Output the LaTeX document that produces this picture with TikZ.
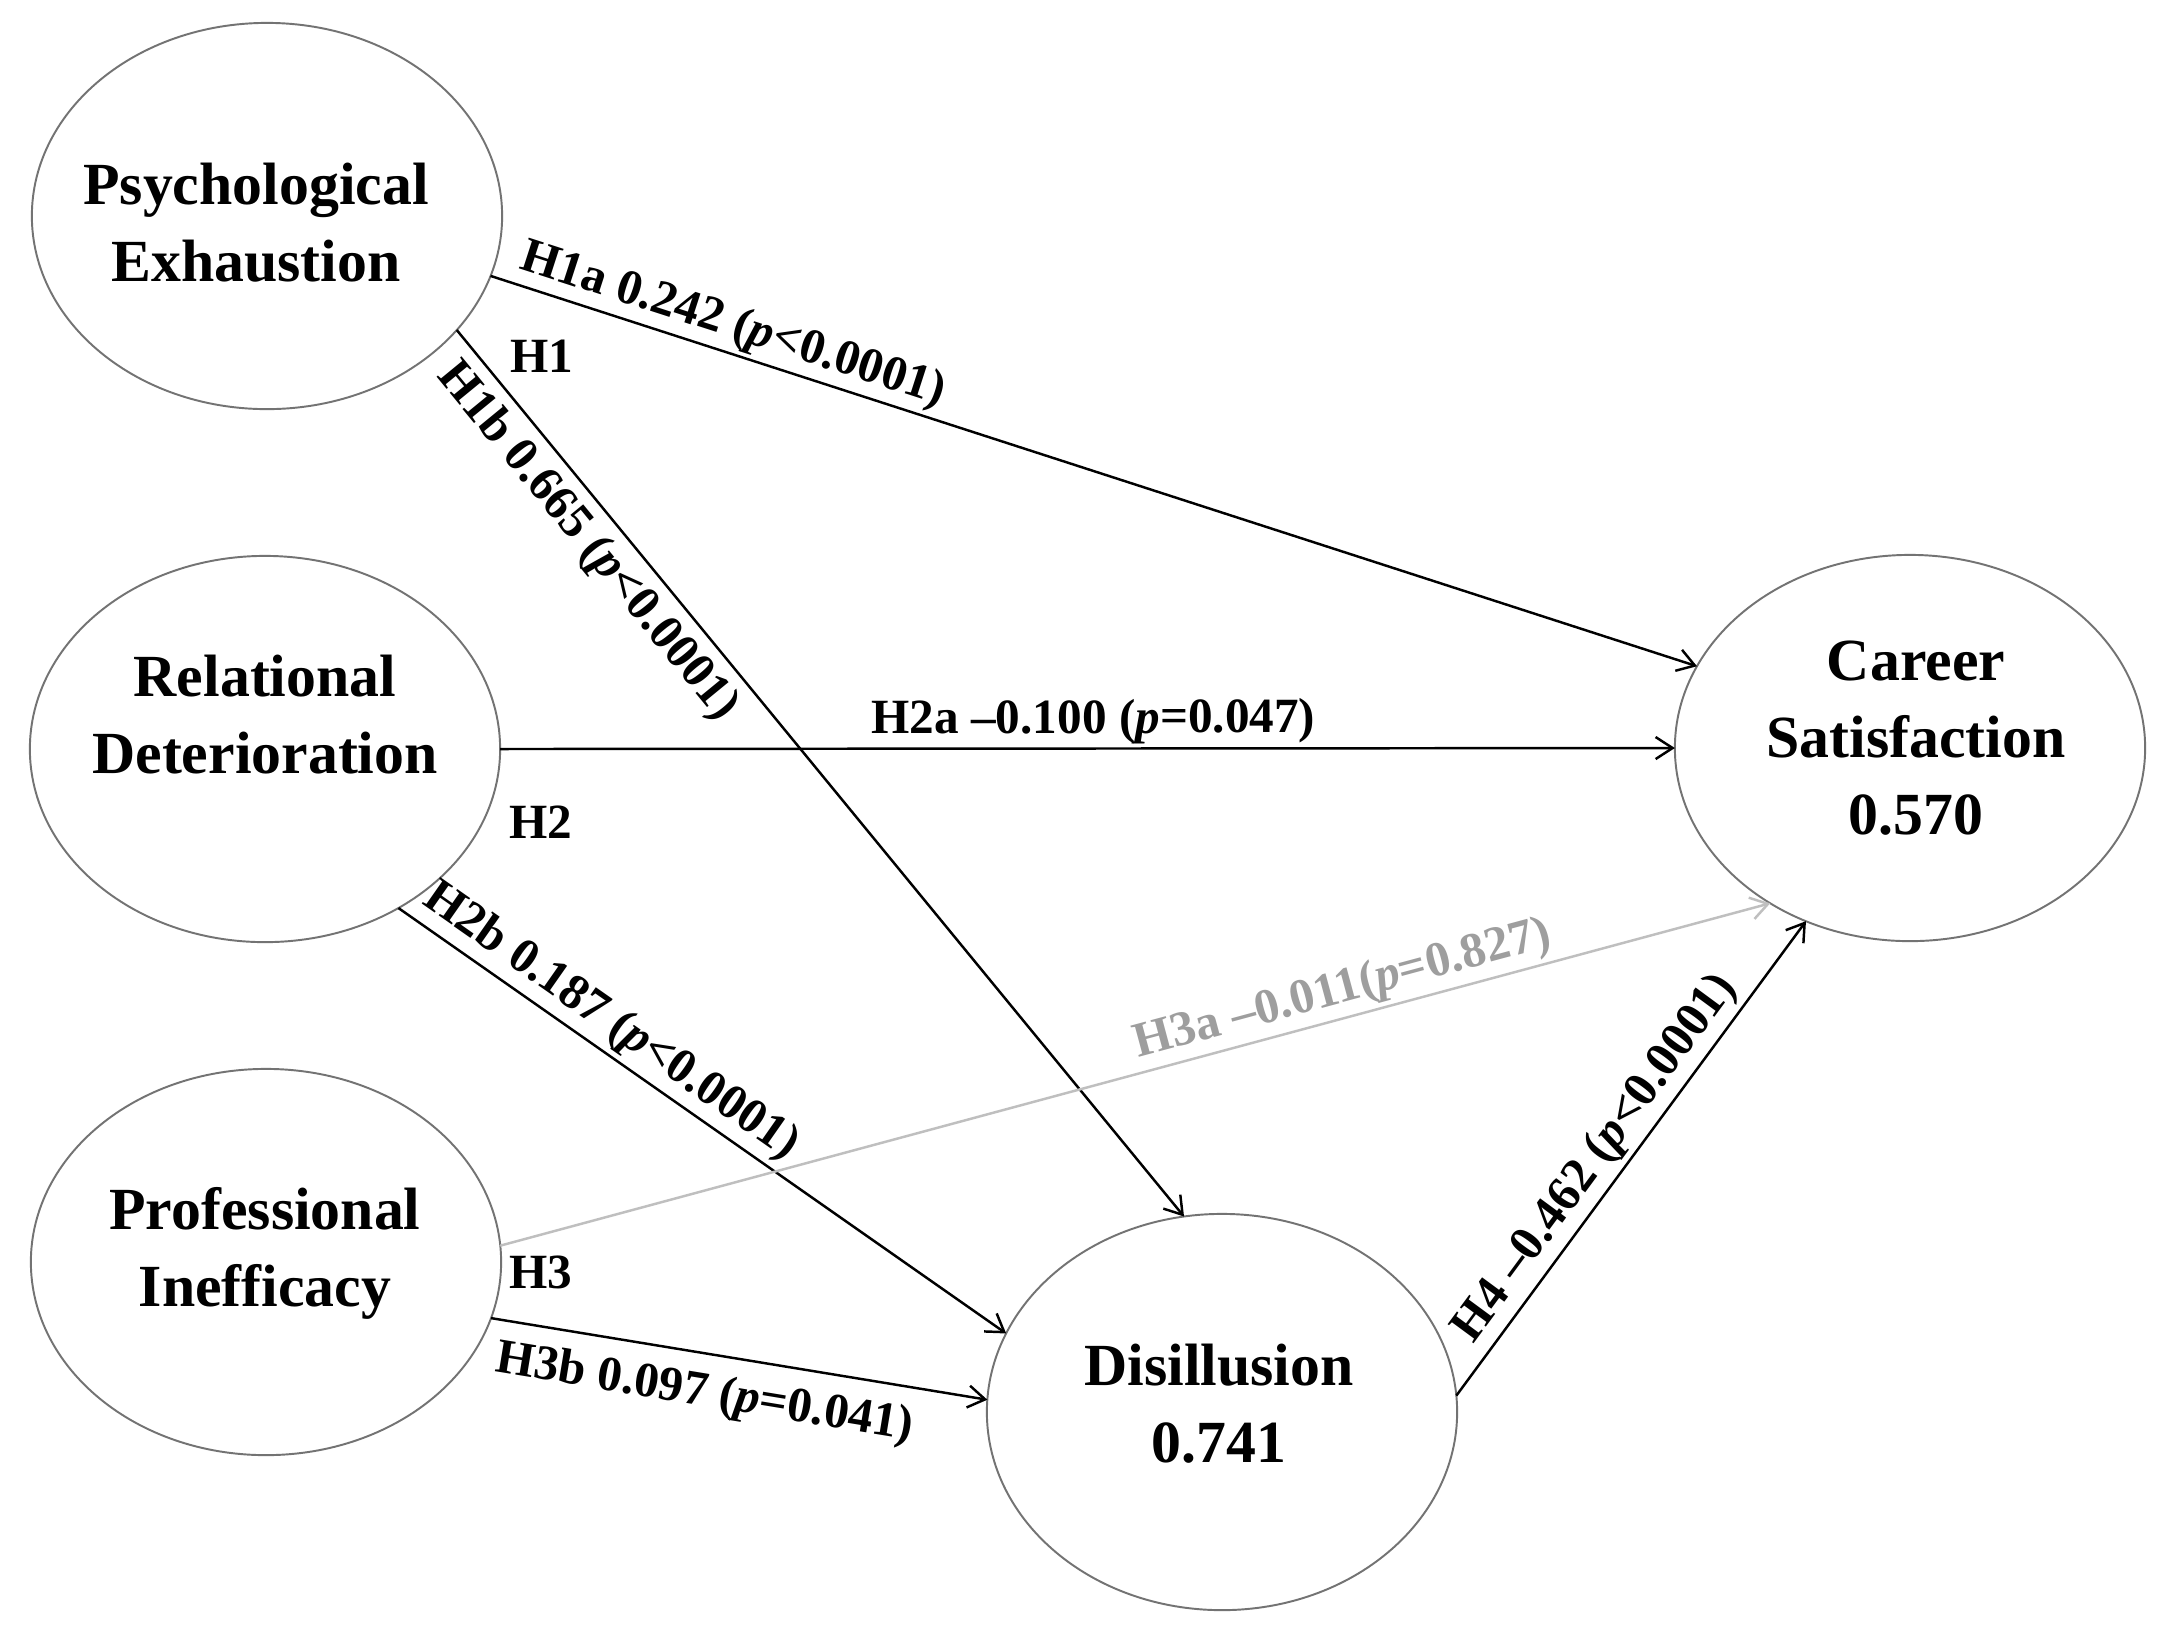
\documentclass[tikz,border=0pt]{standalone}
\usepackage{fontspec}
\setmainfont{Liberation Serif}
\usetikzlibrary{shapes.geometric,arrows.meta}
\begin{document}
\begin{tikzpicture}[x=0.01cm,y=-0.01cm,
  latent/.style={ellipse, draw=black!55, line width=0.55pt, minimum width=4.7cm, minimum height=3.86cm, inner sep=0pt, outer sep=0pt},
  nodetext/.style={align=center, font=\fontsize{17}{21.9}\selectfont\bfseries, inner sep=0pt},
  effect/.style={draw=black, line width=0.7pt, -{Straight Barb[length=1.7mm,width=2.2mm]}},
  weakeffect/.style={effect, draw=black!25},
  elab/.style={font=\fontsize{14}{16}\selectfont\bfseries, inner sep=0pt, sloped},
  hlab/.style={font=\fontsize{14}{16}\selectfont\bfseries, inner sep=0pt}]
\fill[white] (0,0) rectangle (2161,1626);
\useasboundingbox (0,0) rectangle (2161,1626);
% latent variables
\node[latent] (psy) at (267,216) {};
\node[latent] (rel) at (265,749) {};
\node[latent] (pro) at (266,1262) {};
\node[latent] (car) at (1910,748) {};
\node[latent, minimum height=3.96cm] (dis) at (1222,1412) {};
\node[nodetext] (psyT) at (256,223) {Psychological\\Exhaustion};
\node[nodetext] (relT) at (265,715) {Relational\\Deterioration};
\node[nodetext] (proT) at (265,1253) {Professional\\Inefficacy};
\node[nodetext] (carT) at (1916,738) {Career\\Satisfaction\\0.570};
\node[nodetext] (disT) at (1219,1404) {Disillusion\\0.741};
% hypothesis group labels
\node[hlab] (h1) at (542,356) {H1};
\node[hlab] (h2) at (541,822) {H2};
\node[hlab] (h3) at (541,1272) {H3};
% paths
\draw[effect] (psy.-15.4) -- node[elab, pos=0.194, anchor=south, outer sep=0.5mm] (l1a) {H1a 0.242 (\textit{p}\textless0.0001)} (car.159.4);
\draw[effect] (psy.-31.1) -- node[elab, pos=0.215, anchor=north, outer sep=1.1mm] (l1b) {H1b 0.665 (\textit{p}\textless0.0001)} (dis.101.6);
\draw[effect] (rel.0) -- node[elab, pos=0.505, anchor=south, outer sep=0.5mm] (l2a) {H2a \textendash0.100 (\textit{p}=0.047)} (car.180);
\draw[effect] (rel.-50.1) -- node[elab, pos=0.323, anchor=south, outer sep=0.6mm] (l2b) {H2b 0.187 (\textit{p}\textless0.0001)} (dis.160.1);
\draw[weakeffect] (pro.4.3) -- node[elab, pos=0.669, anchor=south, outer sep=0.5mm, text=black!38] (l3a) {H3a \textendash0.011(\textit{p}=0.827)} (car.-132);
\draw[effect] (pro.-14.2) -- node[elab, pos=0.444, anchor=north, outer sep=1.8mm] (l3b) {H3b 0.097 (\textit{p}=0.041)} (dis.177.8);
\draw[effect] (dis.4.7) -- node[elab, pos=0.464, anchor=south, outer sep=0.6mm] (l4) {H4 \textendash0.462 (\textit{p}\textless0.0001)} (car.-121.7);
\end{tikzpicture}
\end{document}
